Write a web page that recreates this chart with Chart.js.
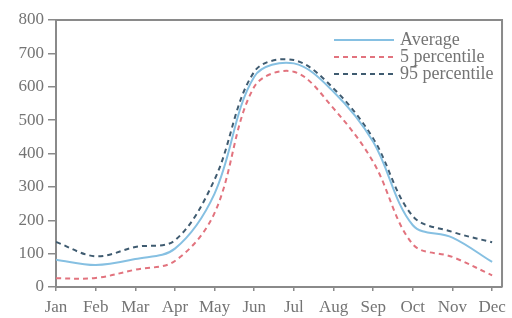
<!DOCTYPE html>
<html>
<head>
<meta charset="utf-8">
<script src="https://cdn.jsdelivr.net/npm/chart.js@4"></script>
<style>
  html, body { margin: 0; padding: 0; background: #fff; }
  #wrap { width: 512px; height: 318px; }
</style>
</head>
<body>
<div id="wrap"><canvas id="chart" width="512" height="318"></canvas></div>
<script>
// Monthly values
const months = ['Jan', 'Feb', 'Mar', 'Apr', 'May', 'Jun', 'Jul', 'Aug', 'Sep', 'Oct', 'Nov', 'Dec'];
const average = [82, 66, 84, 115, 280, 630, 670, 585, 435, 185, 148, 75];
const p5 = [26, 27, 52, 78, 222, 600, 645, 535, 375, 128, 90, 35];
const p95 = [135, 92, 120, 140, 322, 645, 680, 595, 445, 212, 165, 134];
const yTicks = [0, 100, 200, 300, 400, 500, 600, 700, 800];

const toPoints = arr => arr.map((v, i) => ({ x: i, y: v }));

const axisColor = '#8a8a8a';
const textColor = '#747474';
const font = { family: 'Liberation Serif', size: 17 };

// Frame on top / right of the plot and legend in the upper right corner
const framePlugin = {
    id: 'frame',
    afterDraw(chart) {
        const { ctx, chartArea: a } = chart;
        ctx.save();
        ctx.strokeStyle = axisColor;
        ctx.lineWidth = 2;
        ctx.beginPath();
        ctx.moveTo(a.left, a.top);
        ctx.lineTo(a.right, a.top);
        ctx.lineTo(a.right, a.bottom);
        ctx.stroke();

        // legend
        let y = 40;
        ctx.font = '18px "Liberation Serif"';
        ctx.textBaseline = 'middle';
        chart.data.datasets.forEach(ds => {
            ctx.strokeStyle = ds.borderColor;
            ctx.lineWidth = ds.borderWidth;
            ctx.setLineDash(ds.borderDash || []);
            ctx.beginPath();
            ctx.moveTo(334, y);
            ctx.lineTo(394, y);
            ctx.stroke();
            ctx.setLineDash([]);
            ctx.fillStyle = textColor;
            ctx.fillText(ds.label, 400, y);
            y += 17;
        });
        ctx.restore();
    }
};

new Chart(document.getElementById('chart'), {
    type: 'line',
    data: {
        datasets: [
            {
                label: 'Average',
                data: toPoints(average),
                borderColor: '#86c0e2',
                borderWidth: 2,
                tension: 0.35,
                pointRadius: 0
            },
            {
                label: '5 percentile',
                data: toPoints(p5),
                borderColor: '#e2737e',
                borderWidth: 2,
                borderDash: [5, 4],
                tension: 0.35,
                pointRadius: 0
            },
            {
                label: '95 percentile',
                data: toPoints(p95),
                borderColor: '#3f5b70',
                borderWidth: 2,
                borderDash: [5, 4],
                tension: 0.35,
                pointRadius: 0
            }
        ]
    },
    options: {
        responsive: false,
        animation: false,
        layout: { padding: { top: 20, right: 9, left: 0, bottom: 0 } },
        plugins: {
            legend: { display: false },
            tooltip: { enabled: false }
        },
        scales: {
            x: {
                type: 'linear',
                min: 0,
                max: 11.25,
                afterBuildTicks: scale => {
                    scale.ticks = months.map((m, i) => ({ value: i }));
                },
                afterFit: scale => { scale.height = 31; },
                grid: {
                    display: true,
                    drawOnChartArea: false,
                    drawTicks: true,
                    tickLength: 4,
                    color: axisColor,
                    lineWidth: 1.5
                },
                border: { color: axisColor, width: 2 },
                ticks: {
                    color: textColor,
                    font: font,
                    padding: 6,
                    maxRotation: 0,
                    autoSkip: false,
                    callback: v => months[v]
                }
            },
            y: {
                min: 0,
                max: 800,
                afterBuildTicks: scale => {
                    scale.ticks = yTicks.map(v => ({ value: v }));
                },
                afterFit: scale => { scale.width = 56; },
                grid: {
                    display: true,
                    drawOnChartArea: false,
                    drawTicks: true,
                    tickLength: 8,
                    color: axisColor,
                    lineWidth: 1.5
                },
                border: { color: axisColor, width: 2 },
                ticks: {
                    color: textColor,
                    font: font,
                    padding: 4
                }
            }
        }
    },
    plugins: [framePlugin]
});
</script>
</body>
</html>
